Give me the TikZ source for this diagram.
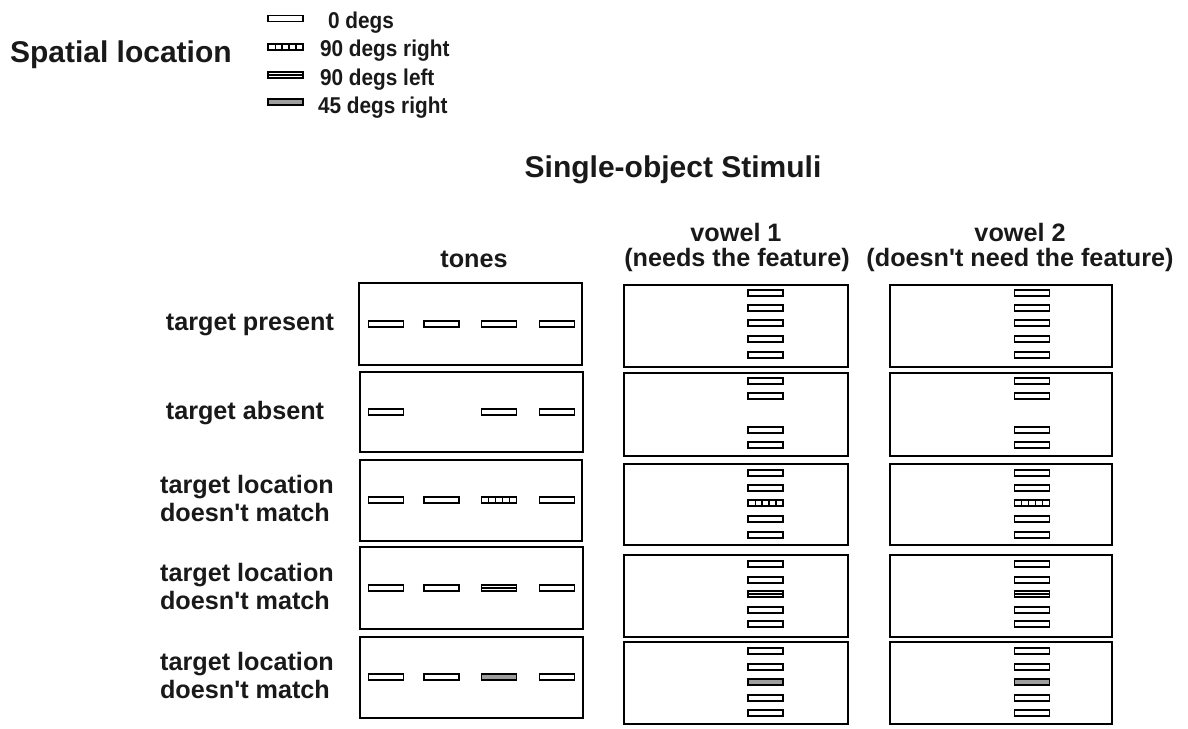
\documentclass[tikz,border=0pt]{standalone}
\usepackage{fontspec}
\setmainfont{Liberation Sans}[Ligatures=TeXOff]
\usetikzlibrary{calc}
\newcommand\fsbig{\fontsize{22.5pt}{26pt}\selectfont\bfseries}
\newcommand\fsmid{\fontsize{18.9pt}{22pt}\selectfont\bfseries}
\newcommand\fssmall{\fontsize{15.6pt}{18pt}\selectfont\bfseries}
\newcommand\legtext[1]{\scalebox{1}[1.1]{#1}}
% panel with corners (x1,y1) and (x2,y2) in pixel units
\newcommand\panelbox[5]{%
  \node[panel, minimum width={(#4-#2)*0.75pt}, minimum height={(#5-#3)*0.75pt}]
    (#1) at ({(#2+#4)/2},{(#3+#5)/2}) {};}
\begin{document}
\begin{tikzpicture}[x=0.75pt,y=-0.75pt,
  panel/.style={draw, line width=2.2pt, inner sep=0pt, outer sep=0pt},
  stim/.style={draw, line width=1.15pt, fill=white, minimum width=26pt,
               minimum height=4.4pt, inner sep=0pt, outer sep=0pt},
  stim hatch/.style={stim, path picture={
      \foreach \k in {1,...,4}{
        \draw[line width=0.9pt]
          ($(path picture bounding box.south west)!\k/5!(path picture bounding box.south east)$) --
          ($(path picture bounding box.north west)!\k/5!(path picture bounding box.north east)$);}}},
  stim double/.style={stim, path picture={
      \draw[line width=0.9pt] (path picture bounding box.west) -- (path picture bounding box.east);}},
  stim gray/.style={stim, fill=black!38},
  label/.style={inner sep=0pt, outer sep=0pt, text=black!90},
]
\useasboundingbox (0,0) rectangle (1188,728);

% ---- legend ----
\node[label, anchor=base west] (spatial) at (10,62) {\fsbig Spatial location};
\node[stim]        (l0)  at (285.5,18.5) {};
\node[stim hatch]  (l90r) at (285.5,47) {};
\node[stim double] (l90l) at (285.5,75) {};
\node[stim gray]   (l45r) at (285.5,102) {};
\node[label, anchor=base west] (t0)   at (328,28)   {\fssmall\legtext{0 degs}};
\node[label, anchor=base west] (t90r) at (320,56.5) {\fssmall\legtext{90 degs right}};
\node[label, anchor=base west] (t90l) at (320,85)   {\fssmall\legtext{90 degs left}};
\node[label, anchor=base west] (t45r) at (318,113)  {\fssmall\legtext{45 degs right}};

% ---- titles ----
\node[label, anchor=base] (title) at (673,177) {\fsbig Single-object Stimuli};
\node[label, anchor=base] (htones) at (474,267) {\fsmid tones};
\node[label, anchor=base] (hv1a) at (736,241) {\fsmid vowel 1};
\node[label, anchor=base] (hv1b) at (737,266) {\fsmid (needs the feature)};
\node[label, anchor=base] (hv2a) at (1020,241) {\fsmid vowel 2};
\node[label, anchor=base] (hv2b) at (1020,266) {\fsmid (doesn't need the feature)};

% ---- row labels ----
\node[label, anchor=base] (r1) at (250,330) {\fsmid target present};
\node[label, anchor=base] (r2) at (245,419) {\fsmid target absent};
\foreach \c/\n in {500/3,588/4,677/5}{
  \node[label, anchor=base] (r\n a) at (247,\c-7) {\fsmid target location};
  \node[label, anchor=base] (r\n b) at (245,\c+21) {\fsmid doesn't match};
}

% ---- panels ----
\panelbox{tone1}{359}{283}{582}{365}
\panelbox{tone2}{360}{372}{583}{452}
\panelbox{tone3}{360}{460}{582}{541}
\panelbox{tone4}{360}{547}{583}{629}
\panelbox{tone5}{360}{637}{583}{718}

\panelbox{va1}{624}{285}{848}{367}
\panelbox{va2}{624}{373}{848}{456}
\panelbox{va3}{624}{464}{848}{545}
\panelbox{va4}{624}{555}{848}{637}
\panelbox{va5}{624}{642}{848}{724}

\panelbox{vb1}{890}{285}{1112}{367}
\panelbox{vb2}{890}{373}{1112}{456}
\panelbox{vb3}{890}{464}{1112}{545}
\panelbox{vb4}{890}{555}{1112}{637}
\panelbox{vb5}{890}{642}{1112}{724}

% ---- tone bars ----
\foreach \x [count=\i] in {386,441.5,499,557}{
  \node[stim] (ta\i) at (\x,324) {};
}
\foreach \x/\i in {386/1,499/3,557/4}{
  \node[stim] (tb\i) at (\x,412) {};
}
\foreach \x/\i/\s in {386/1/stim,441.5/2/stim,499/3/stim hatch,557/4/stim}{
  \node[\s] (tc\i) at (\x,500) {};
}
\foreach \x/\i/\s in {386/1/stim,441.5/2/stim,499/3/stim double,557/4/stim}{
  \node[\s] (td\i) at (\x,588) {};
}
\foreach \x/\i/\s in {386/1/stim,441.5/2/stim,499/3/stim gray,557/4/stim}{
  \node[\s] (te\i) at (\x,677) {};
}

% ---- vowel bars (both vowel columns) ----
\foreach \col/\x in {a/765.5,b/1032}{
  \foreach \y [count=\i] in {293,308,323,339,355}{
    \node[stim] (v\col1\i) at (\x,\y) {};
  }
  \foreach \y/\i in {381/1,396/2,430/4,445/5}{
    \node[stim] (v\col2\i) at (\x,\y) {};
  }
  \foreach \y/\i/\s in {473/1/stim,488/2/stim,503/3/stim hatch,519/4/stim,535/5/stim}{
    \node[\s] (v\col3\i) at (\x,\y) {};
  }
  \foreach \y/\i/\s in {564/1/stim,580/2/stim,594/3/stim double,610/4/stim,624/5/stim}{
    \node[\s] (v\col4\i) at (\x,\y) {};
  }
  \foreach \y/\i/\s in {651/1/stim,667/2/stim,682/3/stim gray,698/4/stim,713/5/stim}{
    \node[\s] (v\col5\i) at (\x,\y) {};
  }
}
\end{tikzpicture}
\end{document}
